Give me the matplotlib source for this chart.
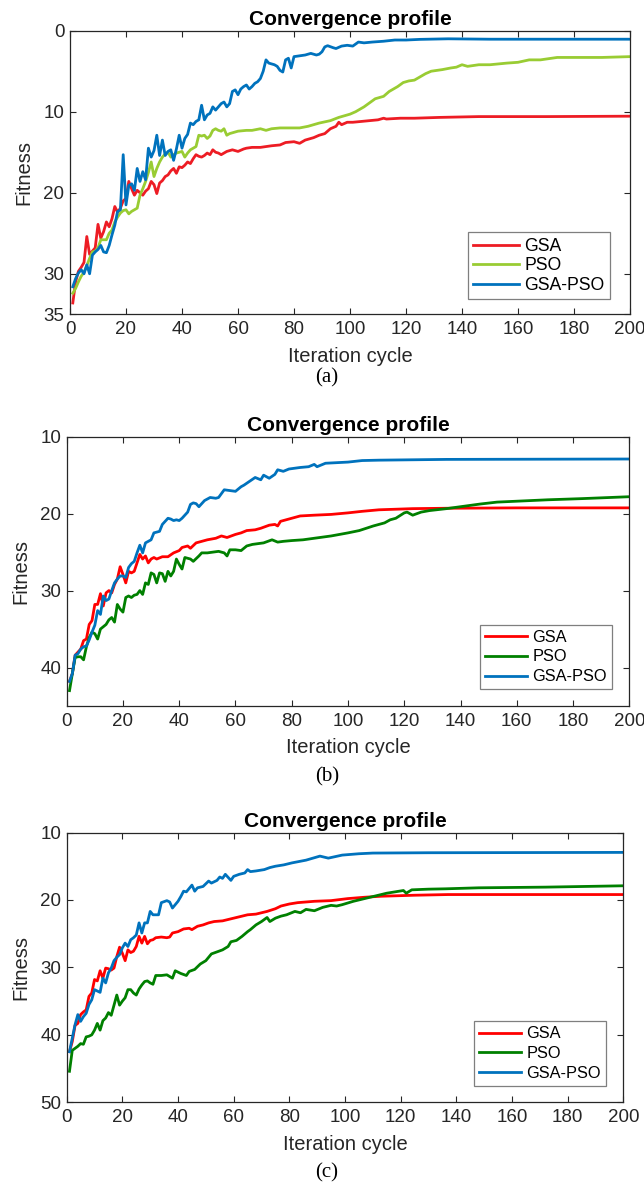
import matplotlib
matplotlib.use("Agg")
import matplotlib.pyplot as plt

plt.rcParams['font.family'] = ['Liberation Sans', 'DejaVu Sans']

labels = ['GSA', 'PSO', 'GSA-PSO']

# ---- panel (a) ----
a_gsa_x = [1, 2, 3, 4, 5, 6, 7, 8, 9, 10, 11, 12, 13, 14, 15, 16, 17, 18, 19, 20,
           21, 22, 23, 24, 25, 26, 27, 28, 29, 30, 31, 32, 33, 34, 35, 36, 37, 38, 39, 40,
           41, 42, 43, 44, 45, 46, 47, 48, 49, 50, 51, 52, 53, 54, 56, 58, 60, 62, 63, 65,
           68, 70, 72, 75, 77, 80, 82, 84, 87, 89, 91, 93, 95, 96, 97, 99, 101, 104, 107, 110,
           112, 113, 118, 123, 132, 146, 170, 200]
a_gsa_y = [33.6, 31.0, 29.7, 29.2, 28.6, 25.4, 27.6, 27.2, 26.8, 23.9, 25.6, 24.8, 23.6, 24.2, 23.2, 21.7, 22.4, 21.9, 21.0, 20.7,
           18.6, 19.5, 20.3, 19.7, 20.0, 20.3, 19.8, 19.5, 18.6, 19.0, 20.1, 18.8, 18.5, 18.0, 17.8, 17.3, 17.0, 17.6, 16.8, 16.9,
           16.6, 16.2, 16.4, 15.8, 15.3, 15.5, 15.6, 15.4, 15.1, 15.3, 14.7, 15.0, 15.1, 15.3, 14.9, 14.7, 14.9, 14.6, 14.5, 14.4,
           14.4, 14.3, 14.2, 14.1, 13.8, 13.7, 13.9, 13.5, 13.2, 12.9, 12.7, 12.1, 11.8, 11.3, 11.6, 11.3, 11.3, 11.2, 11.1, 11.0,
           10.8, 10.9, 10.8, 10.8, 10.7, 10.6, 10.6, 10.55]

a_pso_x = [1, 2, 3, 4, 5, 6, 7, 8, 9, 10, 11, 12, 13, 14, 15, 16, 17, 18, 19, 20,
           21, 22, 23, 24, 25, 26, 27, 28, 29, 30, 31, 32, 33, 34, 35, 36, 37, 38, 39, 40,
           41, 42, 43, 44, 45, 46, 47, 48, 49, 50, 51, 52, 53, 54, 55, 56, 57, 58, 60, 63,
           65, 68, 70, 72, 75, 78, 82, 85, 89, 93, 96, 100, 102, 105, 107, 109, 112, 114, 117, 119,
           121, 123, 125, 127, 129, 131, 133, 136, 138, 140, 142, 146, 150, 156, 160, 164, 168, 174, 182, 190,
           200]
a_pso_y = [32.4, 31.8, 31.0, 30.3, 29.8, 29.0, 28.1, 27.3, 27.2, 26.8, 25.8, 25.8, 25.8, 25.0, 24.6, 23.6, 23.0, 22.5, 22.2, 22.1,
           22.6, 22.3, 22.1, 21.9, 20.3, 19.5, 18.6, 17.5, 16.2, 18.0, 17.0, 16.2, 15.6, 15.2, 15.0, 15.6, 15.3, 15.1, 15.0, 14.9,
           15.6, 15.1, 14.7, 14.5, 14.3, 12.9, 13.0, 12.9, 13.3, 13.0, 12.3, 12.1, 12.3, 12.4, 12.1, 12.9, 12.7, 12.6, 12.4, 12.3,
           12.3, 12.1, 12.3, 12.1, 12.0, 12.0, 12.0, 11.8, 11.4, 11.1, 10.7, 10.3, 10.0, 9.4, 8.9, 8.4, 8.1, 7.5, 6.9, 6.4,
           6.2, 6.1, 5.7, 5.3, 5.0, 4.9, 4.8, 4.6, 4.5, 4.2, 4.4, 4.2, 4.2, 4.0, 3.9, 3.6, 3.6, 3.3, 3.3, 3.3,
           3.2]

a_hyb_x = [1, 2, 3, 4, 5, 6, 7, 8, 9, 10, 11, 12, 13, 14, 15, 16, 17, 18, 19, 20,
           21, 22, 23, 24, 25, 26, 27, 28, 29, 30, 31, 32, 33, 34, 35, 36, 37, 38, 39, 40,
           41, 42, 43, 44, 45, 46, 47, 48, 49, 50, 51, 52, 53, 54, 55, 56, 57, 58, 59, 60,
           61, 62, 63, 64, 65, 66, 67, 68, 69, 70, 71, 72, 73, 74, 75, 76, 77, 78, 79, 80,
           82, 84, 86, 88, 89, 90, 91, 92, 94, 95, 97, 99, 101, 103, 105, 108, 112, 116, 120, 125,
           135, 150, 200]
a_hyb_y = [31.6, 30.6, 29.9, 29.5, 30.0, 28.9, 30.0, 27.7, 27.3, 27.0, 26.5, 27.3, 27.4, 26.5, 25.2, 24.0, 22.3, 22.1, 15.3, 21.5,
           19.1, 18.9, 19.7, 17.0, 18.6, 17.4, 18.4, 14.5, 15.6, 14.8, 12.9, 15.4, 13.5, 15.4, 14.9, 14.7, 16.0, 14.6, 12.9, 14.5,
           13.3, 12.8, 11.4, 11.6, 11.2, 11.0, 9.2, 11.0, 10.4, 10.2, 9.4, 9.8, 9.4, 9.0, 8.8, 9.4, 9.0, 7.5, 7.3, 7.9,
           7.2, 6.9, 6.7, 7.2, 6.9, 6.5, 6.3, 5.9, 5.0, 3.6, 4.0, 4.1, 4.2, 4.4, 4.9, 5.1, 3.6, 3.4, 4.6, 3.2,
           3.1, 3.0, 2.8, 3.0, 2.9, 2.6, 2.0, 1.85, 2.1, 2.2, 1.9, 1.8, 1.9, 1.4, 1.5, 1.4, 1.3, 1.15, 1.15, 1.07,
           1.0, 1.05, 1.05]

# ---- panel (b) ----
b_gsa_x = [1, 2, 3, 4, 5, 6, 7, 8, 9, 10, 11, 12, 13, 14, 15, 16, 17, 18, 19, 20,
           21, 22, 23, 24, 25, 26, 27, 28, 29, 30, 31, 32, 34, 36, 38, 40, 41, 43, 44, 46,
           48, 50, 53, 55, 57, 60, 62, 64, 67, 69, 72, 74, 75, 76, 78, 80, 83, 88, 94, 100,
           105, 111, 123, 135, 160, 200]
b_gsa_y = [41.8, 40.8, 38.4, 38.0, 37.6, 36.5, 36.3, 34.4, 33.9, 31.8, 31.8, 30.4, 32.0, 30.3, 30.0, 30.3, 29.2, 28.5, 26.9, 27.9,
           29.0, 27.5, 27.7, 27.5, 26.4, 25.3, 25.9, 25.5, 26.4, 25.9, 25.7, 25.9, 25.6, 25.6, 25.1, 24.8, 24.4, 24.2, 24.5, 23.8,
           23.6, 23.4, 23.2, 22.9, 23.1, 22.7, 22.5, 22.2, 22.1, 21.9, 21.5, 21.4, 21.6, 21.0, 20.8, 20.6, 20.3, 20.2, 20.1, 19.9,
           19.7, 19.5, 19.35, 19.3, 19.25, 19.25]

b_pso_x = [1, 2, 3, 4, 5, 6, 7, 8, 9, 10, 11, 12, 13, 14, 15, 16, 17, 18, 19, 20,
           21, 22, 23, 24, 25, 26, 27, 28, 29, 30, 31, 32, 33, 34, 35, 36, 37, 38, 39, 40,
           41, 42, 44, 45, 47, 48, 50, 52, 54, 56, 57, 58, 60, 62, 64, 66, 68, 70, 73, 75,
           77, 80, 84, 88, 94, 100, 104, 109, 113, 115, 117, 120, 121, 123, 126, 129, 135, 141, 147, 153,
           159, 171, 183, 200]
b_pso_y = [43.0, 40.8, 38.7, 38.6, 38.6, 39.0, 37.3, 36.1, 35.4, 35.6, 36.3, 35.0, 34.7, 34.4, 33.8, 33.5, 34.1, 31.8, 32.4, 32.8,
           30.9, 30.7, 30.9, 30.6, 30.5, 30.0, 30.5, 29.0, 29.2, 27.7, 27.9, 29.0, 27.7, 27.8, 28.8, 27.5, 28.1, 27.5, 25.9, 26.6,
           27.2, 25.7, 25.9, 26.2, 25.5, 25.1, 25.1, 25.0, 24.9, 25.1, 25.5, 24.7, 24.7, 24.8, 24.2, 24.0, 23.9, 23.8, 23.4, 23.7,
           23.6, 23.5, 23.4, 23.2, 22.9, 22.5, 22.2, 21.6, 21.2, 20.8, 20.6, 19.9, 19.8, 20.2, 19.8, 19.6, 19.35, 19.05, 18.75, 18.5,
           18.4, 18.2, 18.05, 17.8]

b_hyb_x = [1, 2, 3, 4, 5, 6, 7, 8, 9, 10, 11, 12, 13, 14, 15, 16, 17, 18, 19, 20,
           21, 22, 23, 24, 25, 26, 27, 28, 29, 30, 31, 32, 33, 34, 35, 36, 37, 38, 39, 40,
           41, 42, 43, 44, 45, 46, 47, 48, 49, 51, 53, 54, 56, 58, 60, 62, 63, 65, 67, 69,
           70, 72, 74, 75, 77, 79, 83, 86, 88, 89, 92, 100, 105, 111, 123, 135, 200]
b_hyb_y = [41.8, 40.8, 38.4, 38.2, 37.6, 37.3, 37.2, 36.4, 35.4, 34.5, 32.6, 33.1, 30.7, 31.3, 31.1, 30.0, 29.0, 28.5, 28.1, 28.1,
           28.3, 27.0, 26.5, 26.2, 25.1, 24.1, 25.1, 23.8, 23.6, 23.4, 22.5, 22.4, 22.3, 21.4, 21.0, 20.6, 20.7, 20.9, 20.8, 20.9,
           20.6, 20.2, 19.8, 18.8, 18.6, 18.7, 19.1, 18.7, 18.3, 17.9, 18.0, 17.9, 16.9, 17.0, 17.1, 16.5, 16.3, 15.8, 15.3, 15.6,
           15.0, 15.4, 14.9, 14.3, 14.5, 14.2, 14.0, 13.9, 13.6, 13.9, 13.45, 13.3, 13.1, 13.05, 13.0, 12.95, 12.9]

# ---- panel (c) ----
c_gsa_x = [1, 2, 3, 4, 5, 6, 7, 8, 9, 10, 11, 12, 13, 14, 15, 16, 17, 18, 19, 20,
           21, 22, 23, 24, 25, 26, 27, 28, 29, 30, 31, 32, 34, 36, 37, 38, 40, 42, 44, 45,
           47, 49, 51, 53, 56, 58, 60, 63, 65, 68, 70, 72, 75, 77, 80, 83, 89, 95, 101, 107,
           113, 125, 137, 200]
c_gsa_y = [42.5, 41.0, 38.6, 38.3, 37.0, 36.6, 36.3, 34.3, 33.8, 31.8, 32.0, 30.5, 31.6, 30.1, 30.2, 30.4, 30.1, 28.4, 27.0, 27.9,
           29.0, 27.4, 27.8, 27.6, 26.9, 25.4, 26.4, 25.4, 26.5, 26.0, 25.9, 25.6, 25.5, 25.6, 25.5, 24.9, 24.7, 24.3, 24.2, 24.4,
           23.9, 23.7, 23.4, 23.2, 23.1, 22.9, 22.7, 22.4, 22.2, 22.1, 21.9, 21.7, 21.3, 20.9, 20.6, 20.4, 20.2, 20.1, 19.8, 19.6,
           19.45, 19.3, 19.2, 19.2]

c_pso_x = [1, 2, 3, 4, 5, 6, 7, 8, 9, 10, 11, 12, 13, 14, 15, 16, 17, 18, 19, 20,
           21, 22, 23, 24, 25, 26, 27, 28, 29, 30, 31, 32, 34, 36, 38, 39, 41, 43, 44, 46,
           48, 50, 52, 54, 56, 58, 59, 61, 63, 65, 66, 68, 70, 72, 73, 75, 77, 79, 82, 84,
           86, 89, 92, 95, 97, 99, 103, 107, 111, 115, 118, 121, 122, 124, 130, 136, 148, 172, 200]
c_pso_y = [45.4, 42.3, 42.0, 41.7, 41.3, 41.4, 40.3, 40.2, 40.0, 39.3, 38.3, 39.3, 37.9, 37.5, 36.7, 37.1, 35.6, 34.1, 35.6, 35.0,
           34.5, 33.3, 33.3, 33.8, 34.1, 33.2, 32.6, 32.1, 32.0, 32.3, 32.5, 31.2, 31.2, 31.1, 31.6, 30.5, 30.9, 31.2, 30.6, 30.3,
           29.5, 29.0, 28.0, 27.7, 27.4, 26.9, 26.2, 26.0, 25.4, 24.7, 24.4, 23.7, 23.2, 22.6, 23.2, 22.7, 22.4, 22.2, 21.7, 21.9,
           21.4, 21.6, 21.1, 20.8, 20.9, 20.7, 20.2, 19.8, 19.4, 19.0, 18.8, 18.6, 19.0, 18.5, 18.4, 18.35, 18.2, 18.1, 17.9]

c_hyb_x = [1, 2, 3, 4, 5, 6, 7, 8, 9, 10, 11, 12, 13, 14, 15, 16, 17, 18, 19, 20,
           21, 22, 23, 24, 25, 26, 27, 28, 29, 30, 31, 33, 34, 36, 37, 38, 40, 41, 42, 43,
           45, 46, 47, 49, 51, 52, 54, 55, 56, 57, 59, 60, 62, 64, 65, 66, 68, 71, 73, 75,
           78, 81, 86, 91, 94, 99, 105, 110, 130, 200]
c_hyb_y = [42.5, 40.5, 38.5, 37.0, 38.0, 37.3, 36.8, 35.5, 34.8, 33.3, 33.5, 33.7, 31.6, 32.3, 30.8, 30.1, 29.0, 28.5, 28.1, 27.1,
           26.4, 26.9, 25.9, 25.6, 25.2, 23.4, 24.9, 23.4, 23.4, 21.7, 22.2, 22.2, 20.4, 20.1, 20.3, 21.2, 20.2, 19.5, 18.7, 18.8,
           17.8, 18.7, 18.2, 18.0, 17.2, 17.5, 17.1, 16.6, 16.8, 16.2, 17.1, 16.5, 16.2, 16.0, 15.5, 15.8, 15.7, 15.5, 15.2, 15.0,
           14.8, 14.5, 14.1, 13.5, 13.8, 13.35, 13.15, 13.05, 13.0, 12.95]

colors_a = ['#ED1C24', '#99CC33', '#0072BD']
colors_bc = ['#FF0000', '#008000', '#0072BD']

fig = plt.figure(figsize=(6.44, 11.82), dpi=100)
W, H = 644.0, 1182.0


def px_axes(left, top, right, bottom):
    return [left / W, 1 - bottom / H, (right - left) / W, (bottom - top) / H]


def panel(rect, series, colors, ylim, yticks, leg_anchor, leg_fs, leg_sp, caption, cap_y):
    ax = fig.add_axes(px_axes(*rect))
    for (x, y), c, lab in zip(series, colors, labels):
        ax.plot(x, y, color=c, lw=2.0, label=lab)
    ax.set_xlim(0, 200)
    ax.set_xticks(range(0, 201, 20))
    ax.set_ylim(ylim[1], ylim[0])
    ax.set_yticks(yticks)
    ax.tick_params(direction='in', top=True, right=True, length=4, width=0.8,
                   labelsize=13.5, colors='#262626')
    ax.tick_params(axis='x', pad=5)
    ax.tick_params(axis='y', pad=4)
    for s in ax.spines.values():
        s.set_color('#262626')
        s.set_linewidth(0.9)
    ax.set_title('Convergence profile', fontsize=15, fontweight='bold', pad=4)
    ax.set_xlabel('Iteration cycle', fontsize=14.5, color='#262626', labelpad=6)
    ax.set_ylabel('Fitness', fontsize=14.5, color='#262626', labelpad=7)
    leg = ax.legend(loc='lower right', bbox_to_anchor=(leg_anchor[0] / W, 1 - leg_anchor[1] / H),
                    bbox_transform=fig.transFigure, borderaxespad=0, fontsize=leg_fs,
                    frameon=True, fancybox=False, framealpha=1, edgecolor='#7f7f7f',
                    handlelength=2.6, handletextpad=0.3, labelspacing=leg_sp, borderpad=0.3)
    leg.get_frame().set_linewidth(0.9)
    fig.text(327 / W, 1 - cap_y / H, caption, ha='center', va='center',
             fontsize=15, family='Liberation Serif')
    return ax


panel((70, 30.7, 630, 314.3),
      [(a_gsa_x, a_gsa_y), (a_pso_x, a_pso_y), (a_hyb_x, a_hyb_y)],
      colors_a, (0, 35), [0, 10, 20, 30, 35], (610, 299.3), 12.7, 0.15, '(a)', 378)

panel((66.7, 436.7, 629.3, 706),
      [(b_gsa_x, b_gsa_y), (b_pso_x, b_pso_y), (b_hyb_x, b_hyb_y)],
      colors_bc, (10, 45), [10, 20, 30, 40], (611.7, 689.3), 11.8, 0.3, '(b)', 776.7)

panel((66.7, 832.5, 623.3, 1102.3),
      [(c_gsa_x, c_gsa_y), (c_pso_x, c_pso_y), (c_hyb_x, c_hyb_y)],
      colors_bc, (10, 50), [10, 20, 30, 40, 50], (605.7, 1086), 11.8, 0.3, '(c)', 1172.7)

fig.savefig('out.png', dpi=100)
